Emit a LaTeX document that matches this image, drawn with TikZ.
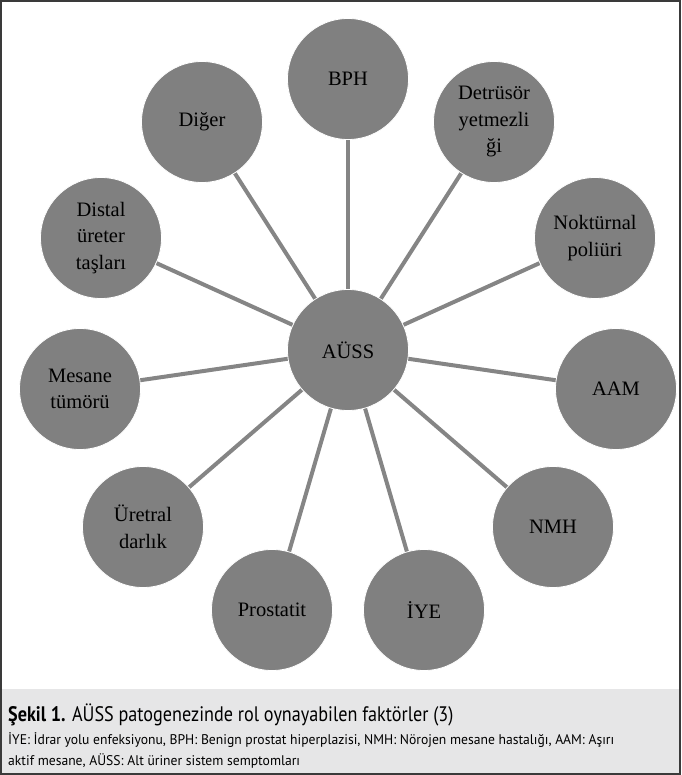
\documentclass[tikz,border=0pt]{standalone}
\usepackage{fontspec}
\setmainfont{Liberation Serif}
\newfontfamily\capfont{PT Sans}
\usetikzlibrary{backgrounds}
\definecolor{circgray}{HTML}{808080}
\definecolor{linegray}{HTML}{858585}
\definecolor{capbg}{HTML}{E6E6E7}
\definecolor{frame}{HTML}{3A3A3A}
\tikzset{
  bubble/.style={circle, fill=circgray, draw=white, line width=0.8pt, minimum size=121pt, inner sep=0pt,
    align=center, font=\fontsize{20.5}{26.5}\selectfont, text=black},
  conn/.style={draw=linegray, line width=4pt},
  captext/.style={anchor=base west, inner sep=0pt, text=black},
}
\begin{document}
\begin{tikzpicture}[x=1pt,y=-1pt]
\useasboundingbox (0,0) rectangle (681,775);
\fill[capbg] (0,689) rectangle (681,775);
\node[bubble] (c) at (348,350) {AÜSS};
\node[bubble] (s1) at (348,79) {BPH};
\node[bubble] (s2) at (494,122) {Detrüsör\\yetmezli\\ği};
\node[bubble] (s3) at (595,238) {Noktürnal\\poliüri};
\node[bubble] (s4) at (616,389) {AAM};
\node[bubble] (s5) at (553,527) {NMH};
\node[bubble] (s6) at (424,610) {İYE};
\node[bubble] (s7) at (272,610) {Prostatit};
\node[bubble] (s8) at (143,527) {Üretral\\darlık};
\node[bubble] (s9) at (80,389) {Mesane\\tümörü};
\node[bubble] (s10) at (101,238) {Distal\\üreter\\taşları};
\node[bubble] (s11) at (202,122) {Diğer};
\begin{scope}[on background layer]
\foreach \s in {s1,s2,s3,s4,s5,s6,s7,s8,s9,s10,s11}
  \draw[conn] (c.center) -- (\s.center);
\end{scope}
\node[captext] (cap1) at (8,721) {\scalebox{0.865}[1]{\capfont\fontsize{21}{24}\selectfont\textbf{Şekil 1.} AÜSS patogenezinde rol oynayabilen faktörler (3)}};
\node[captext] (cap2) at (8,744) {\scalebox{0.974}[1]{\capfont\fontsize{14}{16}\selectfont İYE: İdrar yolu enfeksiyonu, BPH: Benign prostat hiperplazisi, NMH: Nörojen mesane hastalığı, AAM: Aşırı}};
\node[captext] (cap3) at (8,765) {\scalebox{0.974}[1]{\capfont\fontsize{14}{16}\selectfont aktif mesane, AÜSS: Alt üriner sistem semptomları}};
\draw[frame, line width=2pt] (1,1) rectangle (680,774);
\end{tikzpicture}
\end{document}
